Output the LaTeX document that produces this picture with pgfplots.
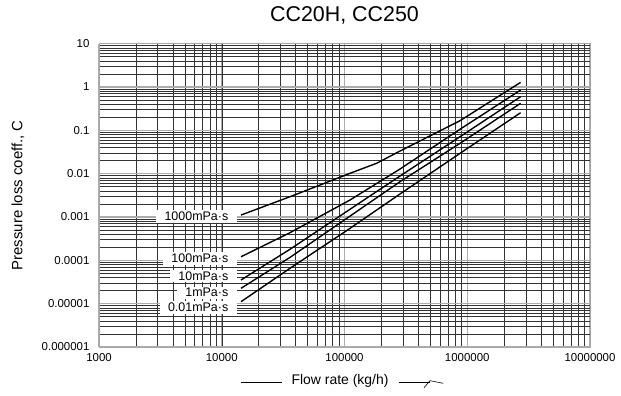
\documentclass[border=0pt]{standalone}
\usepackage{fontspec}
\setmainfont{Liberation Sans}
\usepackage{pgfplots}
\pgfplotsset{compat=1.18}

% curves (x: kg/h, y: C)
\pgfplotstableread{
x y
14350 1.11e-3
35970 2.94e-3
110900 1.02e-2
182800 1.74e-2
283200 3.33e-2
873000 0.167
2720000 1.28
}\visa
\pgfplotstableread{
x y
14350 1.21e-4
35970 4.35e-4
110900 2.47e-3
283200 1.28e-2
873000 0.106
2720000 0.853
}\visb
\pgfplotstableread{
x y
14350 3.52e-5
35970 1.80e-4
110900 1.51e-3
283200 8.83e-3
873000 7.13e-2
2720000 0.598
}\visc
\pgfplotstableread{
x y
14350 2.26e-5
35970 1.17e-4
110900 1.05e-3
283200 6.53e-3
873000 5.02e-2
2720000 0.421
}\visd
\pgfplotstableread{
x y
14350 1.11e-5
35970 6.55e-5
110900 5.48e-4
283200 3.40e-3
873000 2.95e-2
2720000 0.255
}\vise

\tikzset{
  label box/.style={fill=white, anchor=east, inner xsep=8.5bp, inner ysep=1.8bp, font=\fontsize{12.5}{14}\selectfont},
  curve/.style={black, line width=1.4pt, no markers},
}

\begin{document}
\begin{tikzpicture}
\useasboundingbox (0,0) rectangle (621bp,396bp);
\begin{axis}[
  at={(99bp,49bp)}, anchor=south west,
  scale only axis, width=491bp, height=303.3bp,
  xmode=log, ymode=log,
  xmin=1000, xmax=1e7, ymin=1e-6, ymax=10,
  xtick={1e3,1e4,1e5,1e6,1e7},
  xticklabels={1000,10000,100000,1000000,10000000},
  ytick={1e-6,1e-5,1e-4,1e-3,1e-2,1e-1,1,10},
  yticklabels={0.000001,0.00001,0.0001,0.001,0.01,0.1,1,10},
  major tick length=0pt, minor tick length=0pt,
  grid=both,
  major grid style={gray!65, line width=1.3pt},
  minor grid style={black!80, line width=0.5pt},
  axis line style={gray!70, line width=1pt},
  tick label style={font=\fontsize{11.5}{13}\selectfont},
  xticklabel style={yshift=-3bp},
  yticklabel style={xshift=-6bp},
  title={CC20H, CC250},
  title style={font=\fontsize{21.5}{24}\selectfont, at={(0.5,1)}, anchor=center, yshift=22bp},
  xlabel={Flow rate (kg/h)},
  xlabel style={font=\fontsize{14}{16}\selectfont, at={(axis description cs:0.5,0)}, anchor=center, yshift=-33.5bp, xshift=-4.5bp},
  ylabel={Pressure loss coeff., C},
  ylabel style={font=\fontsize{15}{17}\selectfont, at={(axis description cs:-0.165,0.5)}, anchor=center},
]
\addplot[curve] table[x=x,y=y] {\visa};
\addplot[curve] table[x=x,y=y] {\visb};
\addplot[curve] table[x=x,y=y] {\visc};
\addplot[curve] table[x=x,y=y] {\visd};
\addplot[curve] table[x=x,y=y] {\vise};
\coordinate (la) at (axis cs:13300,1.02e-3);
\coordinate (lb) at (axis cs:13300,1.11e-4);
\coordinate (lc) at (axis cs:13300,4.4e-5);
\coordinate (ld) at (axis cs:13300,1.79e-5);
\coordinate (le) at (axis cs:13300,8.2e-6);
\end{axis}
% viscosity labels, on top of the grid
\node[label box] at (la) {1000mPa·s};
\node[label box] at (lb) {100mPa·s};
\node[label box] at (lc) {10mPa·s};
\node[label box] at (ld) {1mPa·s};
\node[label box] at (le) {0.01mPa·s};
% the line-and-arrow mark around the x label
\draw[line width=0.6bp] (241bp,13.3bp) -- (281.7bp,13.3bp);
\draw[line width=0.6bp] (399bp,13.3bp) -- (430bp,13.3bp);
\draw[line width=0.6bp] (424bp,8.3bp) -- (430bp,15.3bp) -- (443.3bp,12.7bp);
\end{tikzpicture}
\end{document}
